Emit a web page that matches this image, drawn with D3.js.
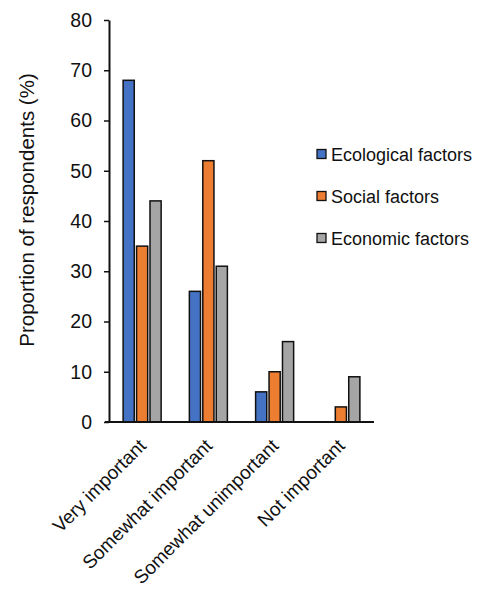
<!DOCTYPE html>
<html>
<head>
<meta charset="utf-8">
<script src="https://cdn.jsdelivr.net/npm/d3@7"></script>
<style>
  html, body { margin: 0; padding: 0; background: #fff; }
  svg { display: block; font-family: "Liberation Sans", Arial, sans-serif; }
</style>
</head>
<body>
<svg id="chart" width="481" height="590"></svg>
<script>
// Survey answers: how important each group of factors is
const categories = ["Very important", "Somewhat important", "Somewhat unimportant", "Not important"];
const seriesNames = ["Ecological factors", "Social factors", "Economic factors"];
const ecological = [68, 26, 6, 0];
const social = [35, 52, 10, 3];
const economic = [44, 31, 16, 9];
const yTicks = [0, 10, 20, 30, 40, 50, 60, 70, 80];
const colors = ["#4472c4", "#ed7d31", "#a5a5a5"];

const seriesValues = [ecological, social, economic];

const svg = d3.select("#chart");
const margin = { left: 109, right: 107, top: 20, bottom: 168 };
const W = 481, H = 590;

const x = d3.scaleBand()
  .domain(categories)
  .range([margin.left, W - margin.right])
  .paddingInner(0)
  .paddingOuter(0);

const xs = d3.scaleBand()
  .domain(seriesNames)
  .range([0, x.bandwidth()])
  .paddingInner(0.17)
  .paddingOuter(1.05);

const y = d3.scaleLinear()
  .domain([0, 80])
  .range([H - margin.bottom, margin.top]);

// bars
const groups = svg.append("g")
  .selectAll("g")
  .data(categories)
  .join("g")
  .attr("transform", d => `translate(${x(d)},0)`);

groups.selectAll("rect")
  .data((c, i) => seriesNames.map((s, j) => ({ s, j, v: seriesValues[j][i] })))
  .join("rect")
  .filter(d => d.v > 0)
  .attr("x", d => xs(d.s))
  .attr("y", d => y(d.v))
  .attr("width", xs.bandwidth())
  .attr("height", d => y(0) - y(d.v))
  .attr("fill", d => colors[d.j])
  .attr("stroke", "#111")
  .attr("stroke-width", 1.5);

// y axis
const yAxis = svg.append("g")
  .attr("transform", `translate(${margin.left},0)`)
  .call(d3.axisLeft(y).tickValues(yTicks).tickSize(5).tickPadding(12).tickSizeOuter(0));
yAxis.select(".domain").attr("stroke", "#111").attr("stroke-width", 2);
yAxis.selectAll(".tick line").attr("stroke", "#111").attr("stroke-width", 1.5);
yAxis.selectAll(".tick text")
  .attr("font-size", 19.5)
  .attr("fill", "#111")
  .attr("font-family", "'Liberation Sans', Arial, sans-serif");

// x axis baseline
const xAxis = svg.append("g")
  .attr("transform", `translate(0,${y(0)})`)
  .call(d3.axisBottom(x).tickSize(0).tickPadding(0).tickSizeOuter(0));
xAxis.select(".domain")
  .attr("d", `M${margin.left - 4},0H${W - margin.right}`)
  .attr("stroke", "#111")
  .attr("stroke-width", 2.2);
xAxis.selectAll(".tick text")
  .attr("font-size", 19)
  .attr("fill", "#111")
  .attr("font-family", "'Liberation Sans', Arial, sans-serif")
  .attr("text-anchor", "end")
  .attr("dy", 0)
  .attr("transform", "translate(5,25) rotate(-45)");

// y axis title
svg.append("text")
  .attr("transform", `translate(34,210) rotate(-90)`)
  .attr("text-anchor", "middle")
  .attr("font-size", 20.5)
  .attr("fill", "#111")
  .text("Proportion of respondents (%)");

// legend
const legend = svg.append("g")
  .selectAll("g")
  .data(seriesNames)
  .join("g")
  .attr("transform", (d, i) => `translate(317,${154 + i * 42})`);
legend.append("rect")
  .attr("x", 0).attr("y", -4.5)
  .attr("width", 9).attr("height", 9)
  .attr("fill", (d, i) => colors[i])
  .attr("stroke", "#111")
  .attr("stroke-width", 1.3);
legend.append("text")
  .attr("x", 14)
  .attr("y", 6.5)
  .attr("font-size", 18)
  .attr("fill", "#111")
  .text(d => d);
</script>
</body>
</html>
